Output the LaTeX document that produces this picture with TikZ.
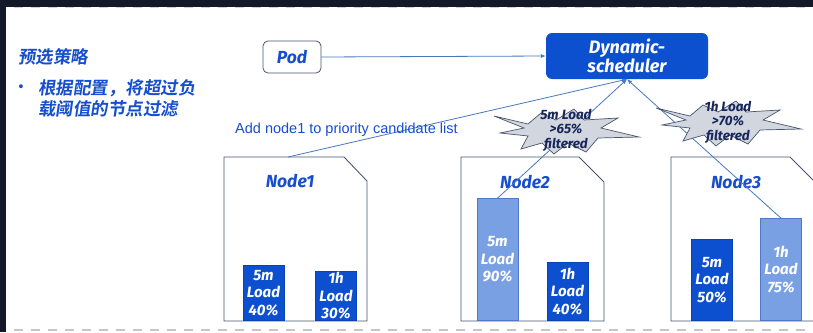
\documentclass[tikz,border=0pt]{standalone}
\usepackage{fontspec}
\setmainfont{Fira Sans}
\newfontfamily\cjkb[FakeSlant=0.15]{Noto Sans CJK SC Bold}
\newfontfamily\arialf{Liberation Sans}
\usetikzlibrary{arrows.meta}

\definecolor{mainblue}{RGB}{12,80,208}
\definecolor{paleblue}{RGB}{122,160,228}
\definecolor{paleedge}{RGB}{80,120,200}
\definecolor{textblue}{RGB}{22,78,205}
\definecolor{linecol}{RGB}{72,120,190}
\definecolor{boxline}{RGB}{72,86,110}
\definecolor{burstfill}{RGB}{210,214,222}
\definecolor{bursttext}{RGB}{24,38,92}
\definecolor{frame}{RGB}{20,24,40}

\tikzset{
  podbox/.style={draw=boxline, line width=0.8pt, fill=white, rounded corners=5pt,
    minimum width=58pt, minimum height=32pt, inner sep=0pt, text=textblue,
    font=\fontsize{17.5}{19}\selectfont\bfseries\itshape},
  schedbox/.style={fill=mainblue, rounded corners=6pt, minimum width=162pt,
    minimum height=46pt, inner sep=0pt, text=white, align=center,
    font=\fontsize{18}{19.5}\selectfont\bfseries\itshape},
  nodetitle/.style={text=textblue, inner sep=0pt,
    font=\fontsize{17.5}{19}\selectfont\bfseries\itshape},
  bar/.style={minimum width=41pt, anchor=south, inner sep=0pt, align=center,
    text=white, font=\fontsize{15}{17.5}\selectfont\bfseries\itshape, line width=0.8pt},
  darkbar/.style={bar, fill=mainblue, draw=mainblue!85!black},
  lightbar/.style={bar, fill=paleblue, draw=paleedge},
  hostbox/.style={draw=boxline, line width=0.9pt},
  conn/.style={draw=linecol, line width=0.8pt},
  toarrow/.style={conn, -{Latex[length=5pt,width=4pt]}},
  burst/.style={draw=boxline, fill=burstfill, line width=0.7pt},
  bursttxt/.style={text=bursttext, align=center, inner sep=0pt,
    font=\fontsize{13.5}{14.5}\selectfont\bfseries\itshape},
  cjktxt/.style={text=textblue, inner sep=0pt, anchor=west,
    font=\fontsize{17.5}{21}\selectfont\cjkb},
}

\newcommand{\burstpath}{(-72,-14) -- (-38,-6) -- (-25,-17) -- (-10,-10) -- (8,-21)
  -- (18,-10) -- (52,-12) -- (35,-2) -- (73,7) -- (32,8) -- (20,22) -- (2,13)
  -- (-12,24) -- (-24,13) -- (-45,19) -- (-38,6) -- (-66,3) -- (-42,-2) -- cycle}

\begin{document}
\begin{tikzpicture}[x=1pt, y=-1pt]
  \clip (0,0) rectangle (813,332);
  \fill[white] (0,0) rectangle (813,332);

  % page frame
  \fill[frame] (0,0) rectangle (813,7);
  \fill[frame] (0,0) rectangle (6,332);
  \draw[gray!35, line width=1pt, dash pattern=on 9pt off 8pt] (14,7.8) -- (813,7.8);
  \draw[gray!45, line width=1.2pt, dash pattern=on 9pt off 8pt] (14,330) -- (813,330);

  % left-hand notes
  \node[cjktxt] (title) at (18,57) {预选策略};
  \node[text=textblue, inner sep=0pt, font=\fontsize{14}{14}\selectfont\bfseries] (dot) at (21,88) {•};
  \node[cjktxt] (line1) at (38,88) {根据配置，将超过负};
  \node[cjktxt] (line2) at (38,109) {载阈值的节点过滤};

  % host boxes with a cut corner
  \draw[hostbox] (224,157) -- (344,157) -- (367,181) -- (367,321) -- (224,321) -- cycle;
  \draw[hostbox] (461,157) -- (579,157) -- (604,182) -- (604,321) -- (461,321) -- cycle;
  \draw[hostbox] (671,157) -- (790,157) -- (830,197) -- (830,321) -- (671,321) -- cycle;
  \coordinate (n1top) at (288,157);

  \node[nodetitle] (n1) at (290,181) {Node1};
  \node[nodetitle] (n2) at (525,182) {Node2};
  \node[nodetitle] (n3) at (736,182) {Node3};

  % load bars
  \node[darkbar, minimum height=55pt] (b1a) at (263.5,321) {5m\\Load\\40\%};
  \node[darkbar, minimum height=49pt] (b1b) at (336,321) {1h\\Load\\30\%};
  \node[lightbar, minimum height=122pt] (b2a) at (497.5,321) {5m\\Load\\90\%};
  \node[darkbar, minimum height=58pt] (b2b) at (567.5,321) {1h\\Load\\40\%};
  \node[darkbar, minimum height=81pt] (b3a) at (712,321) {5m\\Load\\50\%};
  \node[lightbar, minimum height=102pt] (b3b) at (781,321) {1h\\Load\\75\%};

  % pod and scheduler
  \node[podbox] (pod) at (292,57) {Pod};
  \node[schedbox] (sched) at (627,56) {Dynamic-\\scheduler};

  % connectors
  \draw[toarrow] (pod.east) -- (sched.west);
  \draw[toarrow] (n1top) -- (sched.south);
  \draw[toarrow] (b2a.north) -- (sched.south);
  \draw[toarrow] (b3b.north) -- (sched.south);

  \node[text=textblue, anchor=west, inner sep=0pt, font=\fontsize{14.5}{16}\selectfont\arialf]
    (addtxt) at (235,130) {Add node1 to priority candidate list};

  % filter bursts
  \begin{scope}[shift={(566,130)}]
    \draw[burst] \burstpath;
  \end{scope}
  \node[bursttxt] (f1) at (566,130) {5m Load\\>65\%\\filtered};
  \begin{scope}[shift={(728,122)}]
    \draw[burst] \burstpath;
  \end{scope}
  \node[bursttxt] (f2) at (728,122) {1h Load\\>70\%\\filtered};
\end{tikzpicture}
\end{document}
